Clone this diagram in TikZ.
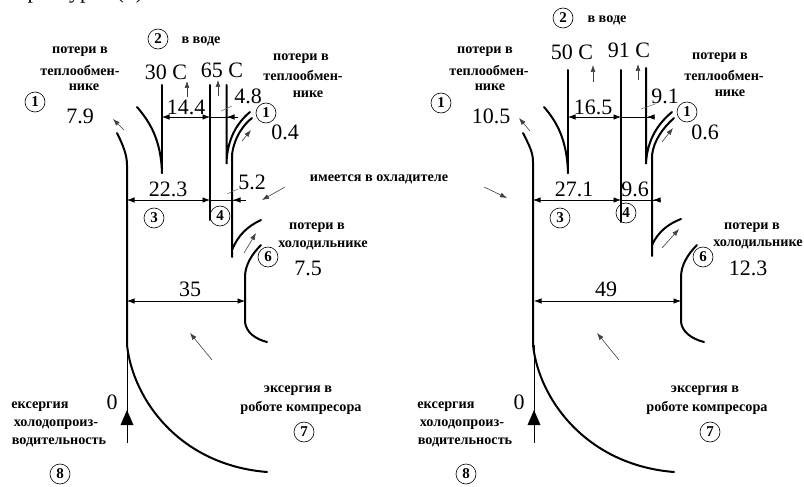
\documentclass[tikz,border=0pt]{standalone}
\usepackage{fontspec}
\setmainfont{Liberation Serif}
\usetikzlibrary{arrows.meta}
\tikzset{
  heavy/.style={line width=2pt,line cap=round},
  thinline/.style={line width=0.7pt},
  dim/.style={line width=0.7pt,{Latex[length=7.5pt,width=5.5pt]}-{Latex[length=7.5pt,width=5.5pt]}},
  dimhalf/.style={line width=0.7pt,-{Latex[length=7.5pt,width=5.5pt]}},
  flow/.style={line width=0.6pt,black!75,-{Latex[length=7pt,width=5pt]}},
  leader/.style={line width=0.5pt,black!60},
  lab/.style={inner sep=0pt,font=\fontsize{14.2}{14.2}\selectfont\bfseries},
  num/.style={inner sep=0pt,font=\fontsize{22}{22}\selectfont},
  circ/.style={circle,draw,line width=0.6pt,minimum size=20pt,inner sep=0pt,font=\fontsize{15}{15}\selectfont\bfseries},
}
\begin{document}
\begin{tikzpicture}[x=1pt,y=-1pt]
\useasboundingbox (0,0) rectangle (804,487);
% cropped text at the top edge
\node[num,anchor=base] (topa) at (33,-1) {р};
\node[num,anchor=base] (topb) at (80,-1) {ур};
\node[num,anchor=base] (topc) at (130,-1) {(\hspace{12pt})};
% ---------- left panel
\draw[heavy] (117,133) .. controls (123,145) and (127,155) .. (127,165) -- (127,345)
   .. controls (133,400) and (180,465) .. (267,472);
\draw[line width=0.8pt] (127,345) -- (127,443);
\fill (127,410) -- (133.5,425) -- (120.5,425) -- cycle;
\draw[heavy] (137,107) .. controls (150,122) and (161,140) .. (162,173);
\draw[heavy] (162,85) -- (162,173);
\draw[heavy] (210,85) -- (210,220);
\draw[heavy] (226.5,85) -- (226.5,164) .. controls (227,138) and (238,122) .. (250,112);
\draw[heavy] (232,257) -- (232,155) .. controls (234,138) and (243,125) .. (252,118);
\draw[heavy] (232,250) .. controls (238,235) and (248,226) .. (261,220);
\draw[heavy] (261,245) .. controls (252,254) and (245,265) .. (245,277) -- (245,322)
   .. controls (246,332) and (255,339) .. (267,342);
\draw[dim] (162,117) -- (210,117);
\draw[thinline] (210,117) -- (238,117);
\draw[dimhalf] (238,117) -- (227,117);
\draw[dim] (127,200) -- (210,200);
\draw[thinline] (210,200) -- (246,200);
\draw[dimhalf] (242,200) -- (233,200);
\draw[dim] (127,301) -- (245,301);
\draw[flow] (124,130) -- (113,119);
\draw[flow] (187,97) -- (187,81);
\draw[flow] (218,96) -- (218,80);
\draw[flow] (242,141) -- (251,130);
\draw[leader] (221,111) -- (232,106);
\draw[leader] (227,194) -- (238,189);
\draw[flow] (285,187) -- (262,200);
\draw[flow] (244,253) -- (256,233);
\draw[flow] (212,360) -- (190,333);
\node[circ] (l2) at (158,39) {2};
\node[lab] (lw) at (201,41) {в воде};
\node[lab] (la1) at (80,52) {потери в};
\node[lab] (la2) at (80,70) {теплообмен-};
\node[lab] (la3) at (84,87) {нике};
\node[circ] (l1a) at (35,102) {1};
\node[num] (lv1) at (80,116) {7.9};
\node[num] (lt1) at (166,72) {30 C};
\node[num] (lt2) at (222,70) {65 C};
\node[num] (lv2) at (186,107) {14.4};
\node[num] (lv3) at (248,96) {4.8};
\node[lab] (lb1) at (301,59) {потери в};
\node[lab] (lb2) at (303,75) {теплообмен-};
\node[lab] (lb3) at (308,94) {нике};
\node[circ] (l1b) at (266,113) {1};
\node[num] (lv4) at (285,132) {0.4};
\node[num] (lv5) at (168,189) {22.3};
\node[num] (lv6) at (252,182) {5.2};
\node[lab] (have) at (379,179) {имеется в охладителе};
\node[circ] (l3) at (154,218) {3};
\node[circ] (l4) at (220,216) {4};
\node[lab] (lc1) at (317,228) {потери в};
\node[lab] (lc2) at (323,245) {холодильнике};
\node[circ] (l6) at (268,257) {6};
\node[num] (lv7) at (308,268) {7.5};
\node[num] (lv8) at (190,289) {35};
\node[num] (lv0) at (112,402) {0};
\node[lab] (ld1) at (40,407) {ексергия};
\node[lab] (ld2) at (56,425) {холодопроиз-};
\node[lab] (ld3) at (59,442) {водительность};
\node[circ] (l8) at (60,474) {8};
\node[lab] (le1) at (298,391) {эксергия в};
\node[lab] (le2) at (301,408) {роботе компресора};
\node[circ] (l7) at (304,432) {7};
% ---------- right panel
\draw[heavy] (523,133) .. controls (529,145) and (533,152) .. (533,162) -- (533,345)
   .. controls (539,400) and (587,465) .. (674,472);
\draw[line width=0.8pt] (534,345) -- (534,443);
\fill (534,410) -- (540.5,425) -- (527.5,425) -- cycle;
\draw[heavy] (544,107) .. controls (557,122) and (567,140) .. (568,173);
\draw[heavy] (568,70) -- (568,173);
\draw[heavy] (621,70) -- (621,222);
\draw[heavy] (646,68) -- (646,164) .. controls (647,138) and (660,122) .. (672,112);
\draw[heavy] (652,256) -- (652,155) .. controls (654,140) and (663,128) .. (674,118);
\draw[heavy] (652,245) .. controls (658,232) and (668,224) .. (681,219);
\draw[heavy] (697,245) .. controls (688,254) and (681,265) .. (681,277) -- (681,322)
   .. controls (682,332) and (692,339) .. (704,342);
\draw[dim] (568,117) -- (621,117);
\draw[thinline] (621,117) -- (655,117);
\draw[dimhalf] (655,117) -- (647,117);
\draw[dim] (533,200) -- (621,200);
\draw[thinline] (621,200) -- (661,200);
\draw[dimhalf] (661,200) -- (653,200);
\draw[dim] (534,301) -- (681,301);
\draw[flow] (530,131) -- (519,118);
\draw[flow] (593,82) -- (593,65);
\draw[flow] (638,80) -- (638,64);
\draw[flow] (662,142) -- (673,128);
\draw[leader] (641,109) -- (655,104);
\draw[flow] (484,187) -- (507,198);
\draw[flow] (662,248) -- (679,229);
\draw[flow] (619,360) -- (597,333);
\node[circ] (r2) at (563,18) {2};
\node[lab] (rw) at (607,20) {в воде};
\node[lab] (ra1) at (485,52) {потери в};
\node[lab] (ra2) at (489,70) {теплообмен-};
\node[lab] (ra3) at (490,87) {нике};
\node[circ] (r1a) at (441,103) {1};
\node[num] (rv1) at (491,116) {10.5};
\node[num] (rt1) at (572,52) {50 C};
\node[num] (rt2) at (629,50) {91 C};
\node[num] (rv2) at (593,107) {16.5};
\node[num] (rv3) at (665,96) {9.1};
\node[lab] (rb1) at (720,58) {потери в};
\node[lab] (rb2) at (724,75) {теплообмен-};
\node[lab] (rb3) at (730,93) {нике};
\node[circ] (r1b) at (687,112) {1};
\node[num] (rv4) at (705,132) {0.6};
\node[num] (rv5) at (574,189) {27.1};
\node[num] (rv6) at (635,189) {9.6};
\node[circ] (r3) at (560,218) {3};
\node[circ] (r4) at (626,213) {4};
\node[lab] (rc1) at (752,228) {потери в};
\node[lab] (rc2) at (758,244) {холодильнике};
\node[circ] (r6) at (703,257) {6};
\node[num] (rv7) at (748,268) {12.3};
\node[num] (rv8) at (606,289) {49};
\node[num] (rv0) at (519,402) {0};
\node[lab] (rd1) at (446,407) {ексергия};
\node[lab] (rd2) at (462,425) {холодопроиз-};
\node[lab] (rd3) at (465,442) {водительность};
\node[circ] (r8) at (466,474) {8};
\node[lab] (re1) at (705,391) {эксергия в};
\node[lab] (re2) at (707,408) {роботе компресора};
\node[circ] (r7) at (710,432) {7};
\end{tikzpicture}
\end{document}
